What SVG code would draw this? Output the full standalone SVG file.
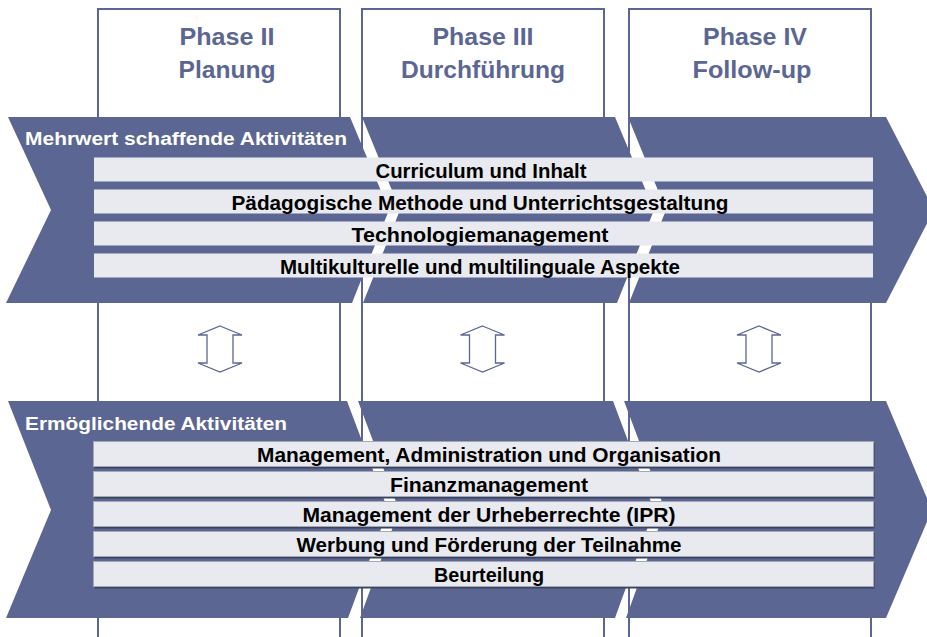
<svg xmlns="http://www.w3.org/2000/svg" width="927" height="637" viewBox="0 0 927 637">
<defs>
<style>
.box{fill:#ffffff;stroke:#5c6692;stroke-width:2}
.band{fill:#5c6692}
.bar{fill:#e9eaef}
.bar2{fill:#e9eaef;stroke:#a3a9b2;stroke-width:1}
.shadow{fill:#3c4261}
.ph{font-family:"Liberation Sans",Arial,sans-serif;font-weight:bold;font-size:23px;fill:#5c6692;text-anchor:middle}
.bt{font-family:"Liberation Sans",Arial,sans-serif;font-weight:bold;font-size:18px;fill:#ffffff}
.tx{font-family:"Liberation Sans",Arial,sans-serif;font-weight:bold;font-size:20px;fill:#000000;text-anchor:middle}
.arr{fill:#ffffff;stroke:#5c6692;stroke-width:1.3;stroke-linejoin:miter}
</style>
</defs>
<rect width="927" height="637" fill="#ffffff"/>
<g id="phase2">
<rect class="box" x="98" y="9" width="242" height="640"/>
<text class="ph" x="227" y="45" textLength="95" lengthAdjust="spacingAndGlyphs">Phase II</text>
<text class="ph" x="227" y="78" textLength="97" lengthAdjust="spacingAndGlyphs">Planung</text>
</g>
<g id="phase3">
<rect class="box" x="362" y="9" width="242" height="640"/>
<text class="ph" x="483" y="45" textLength="101" lengthAdjust="spacingAndGlyphs">Phase III</text>
<text class="ph" x="483" y="78" textLength="164" lengthAdjust="spacingAndGlyphs">Durchführung</text>
</g>
<g id="phase4">
<rect class="box" x="629" y="9" width="242" height="640"/>
<text class="ph" x="755" y="45" textLength="104" lengthAdjust="spacingAndGlyphs">Phase IV</text>
<text class="ph" x="752" y="78" textLength="119" lengthAdjust="spacingAndGlyphs">Follow-up</text>
</g>
<g id="band-mehrwert">
<polygon class="band" points="8,117 350,117 389,210 352,303 6,303 51,210"/>
<polygon class="band" points="362,117 615,117 654,210 617,303 363,303 400,210"/>
<polygon class="band" points="628,117 886,117 934,210 886,303 629,303 666,210"/>
<text class="bt" x="25" y="144.5" textLength="322" lengthAdjust="spacingAndGlyphs">Mehrwert schaffende Aktivitäten</text>
</g>
<g id="bar-curriculum">
<rect class="bar" x="94" y="157.5" width="779" height="24"/>
<text class="tx" x="481" y="177.5" textLength="211" lengthAdjust="spacingAndGlyphs">Curriculum und Inhalt</text>
</g>
<g id="bar-paedagogik">
<rect class="bar" x="94" y="189.5" width="779" height="24"/>
<text class="tx" x="480" y="209.5" textLength="497" lengthAdjust="spacingAndGlyphs">Pädagogische Methode und Unterrichtsgestaltung</text>
</g>
<g id="bar-technologie">
<rect class="bar" x="94" y="221.5" width="779" height="24"/>
<text class="tx" x="480" y="241.5" textLength="257" lengthAdjust="spacingAndGlyphs">Technologiemanagement</text>
</g>
<g id="bar-multikulturell">
<rect class="bar" x="94" y="253.5" width="779" height="24"/>
<text class="tx" x="480" y="273.5" textLength="400" lengthAdjust="spacingAndGlyphs">Multikulturelle und multilinguale Aspekte</text>
</g>
<g id="band-ermoeglichend">
<polygon class="band" points="8,401 347,401 388,510 348,618 6,618 51,510"/>
<polygon class="band" points="358,401 613,401 654,510 615,618 360,618 399,510"/>
<polygon class="band" points="624,401 886,401 932,510 886,618 626,618 665,510"/>
<text class="bt" x="25" y="429.5" textLength="262" lengthAdjust="spacingAndGlyphs">Ermöglichende Aktivitäten</text>
</g>
<g id="bar-management">
<rect class="shadow" x="94.5" y="443" width="780" height="25.5"/>
<rect class="bar2" x="93.5" y="441.5" width="780" height="25"/>
<text class="tx" x="489" y="461.5" textLength="464" lengthAdjust="spacingAndGlyphs">Management, Administration und Organisation</text>
</g>
<g id="bar-finanz">
<rect class="shadow" x="94.5" y="473" width="780" height="25.5"/>
<rect class="bar2" x="93.5" y="471.5" width="780" height="25"/>
<text class="tx" x="489" y="491.5" textLength="198" lengthAdjust="spacingAndGlyphs">Finanzmanagement</text>
</g>
<g id="bar-ipr">
<rect class="shadow" x="94.5" y="503" width="780" height="25.5"/>
<rect class="bar2" x="93.5" y="501.5" width="780" height="25"/>
<text class="tx" x="489" y="521.5" textLength="373" lengthAdjust="spacingAndGlyphs">Management der Urheberrechte (IPR)</text>
</g>
<g id="bar-werbung">
<rect class="shadow" x="94.5" y="533" width="780" height="25.5"/>
<rect class="bar2" x="93.5" y="531.5" width="780" height="25"/>
<text class="tx" x="489" y="551.5" textLength="385" lengthAdjust="spacingAndGlyphs">Werbung und Förderung der Teilnahme</text>
</g>
<g id="bar-beurteilung">
<rect class="shadow" x="94.5" y="563" width="780" height="25.5"/>
<rect class="bar2" x="93.5" y="561.5" width="780" height="25"/>
<text class="tx" x="489" y="581.5" textLength="110" lengthAdjust="spacingAndGlyphs">Beurteilung</text>
</g>
<g id="connectors">
<path class="arr" d="M220,326 L242,335 L233,335 L233,363 L242,363 L220,372 L198,363 L207,363 L207,335 L198,335 Z"/>
<path class="arr" d="M482.5,326 L504.5,335 L495.5,335 L495.5,363 L504.5,363 L482.5,372 L460.5,363 L469.5,363 L469.5,335 L460.5,335 Z"/>
<path class="arr" d="M759,326 L781,335 L772,335 L772,363 L781,363 L759,372 L737,363 L746,363 L746,335 L737,335 Z"/>
</g>
</svg>
